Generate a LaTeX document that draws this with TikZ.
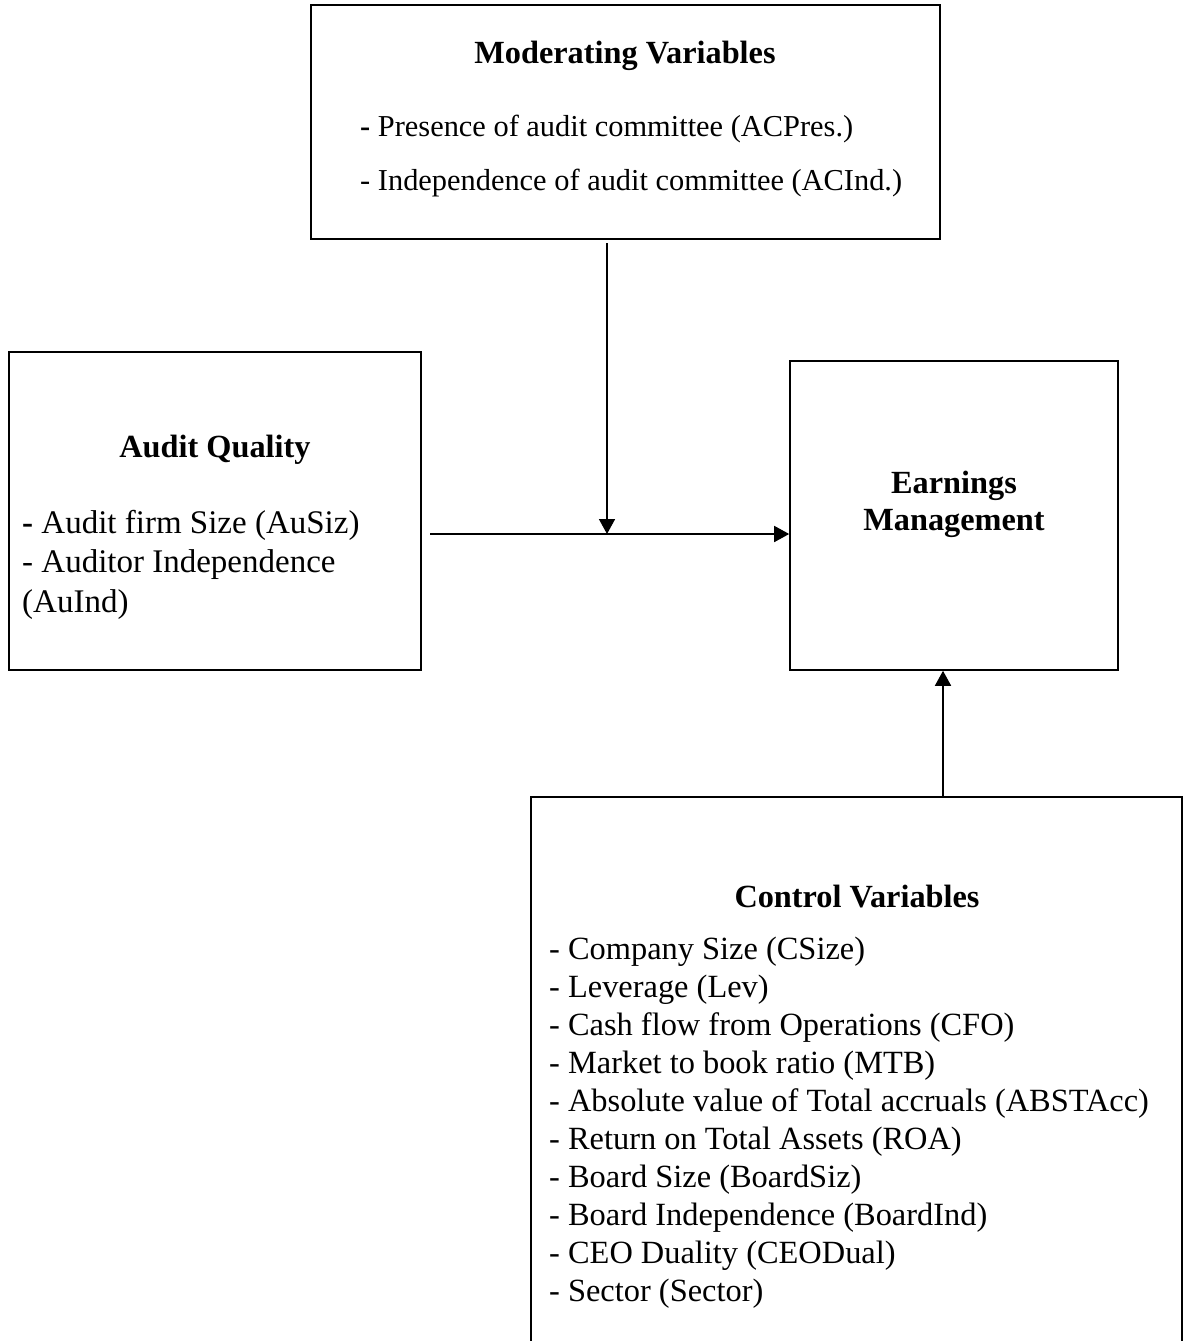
\documentclass[tikz,border=0pt]{standalone}
\usepackage{fontspec}
\setmainfont{Liberation Serif}
\usetikzlibrary{arrows.meta}
\begin{document}
\begin{tikzpicture}[x=1pt,y=-1pt,
  box/.style={draw=black,line width=1.6pt,rectangle,inner sep=0pt},
  txt/.style={inner sep=0pt,font=\fontsize{32.4}{38}\selectfont},
  modtxt/.style={inner sep=0pt,font=\fontsize{30.4}{38}\selectfont},
  aqtxt/.style={inner sep=0pt,font=\fontsize{33}{38}\selectfont},
  ttl/.style={inner sep=0pt,font=\fontsize{32.3}{38}\selectfont\bfseries},
  arr/.style={line width=1.6pt,-{Triangle[length=15pt,width=16pt]}}]
\useasboundingbox (0,0) rectangle (1186,1341);
% boxes
\node[box,minimum width=629pt,minimum height=234pt] (mod) at (625.5,122) {};
\node[box,minimum width=412pt,minimum height=318pt] (aq) at (215,511) {};
\node[box,minimum width=328pt,minimum height=309pt] (em) at (954,515.5) {};
\node[box,minimum width=651pt,minimum height=603pt] (cv) at (856.5,1098.5) {};
% moderating text
\node[ttl,anchor=base] (modt) at (625,63) {Moderating Variables};
\node[modtxt,anchor=base west] (mod1) at (360,136) {\textbf{-} Presence of audit committee (ACPres.)};
\node[modtxt,anchor=base west] (mod2) at (360,190) {- Independence of audit committee (ACInd.)};
% audit quality text
\node[ttl,anchor=base] (aqt) at (215,457) {Audit Quality};
\node[aqtxt,anchor=base west] (aq1) at (22,533) {\textbf{-} Audit firm Size (AuSiz)};
\node[aqtxt,anchor=base west] (aq2) at (22,572) {- Auditor Independence};
\node[aqtxt,anchor=base west] (aq3) at (22,612) {(AuInd)};
% earnings management text
\node[ttl,anchor=base] (em1) at (954,493) {Earnings};
\node[ttl,anchor=base] (em2) at (954,530) {Management};
% control variables text
\node[ttl,anchor=base] (cvt) at (857,907) {Control Variables};
\foreach \t [count=\i from 0] in {
  {- Company Size (CSize)},
  {- Leverage (Lev)},
  {- Cash flow from Operations (CFO)},
  {- Market to book ratio (MTB)},
  {- Absolute value of Total accruals (ABSTAcc)},
  {- Return on Total Assets (ROA)},
  {- Board Size (BoardSiz)},
  {- Board Independence (BoardInd)},
  {- CEO Duality (CEODual)},
  {- Sector (Sector)}}
  \node[txt,anchor=base west] (cv\i) at (549,959+38*\i) {\t};
% connectors
\coordinate (hstart) at (430,534);
\coordinate (vstart) at (607,243);
\coordinate (cvtop) at (943,797);
\draw[arr] (hstart) -- (em.west |- hstart);
\draw[arr] (vstart) -- (vstart |- hstart);
\draw[arr] (cvtop) -- (em.south -| cvtop);
\end{tikzpicture}
\end{document}
